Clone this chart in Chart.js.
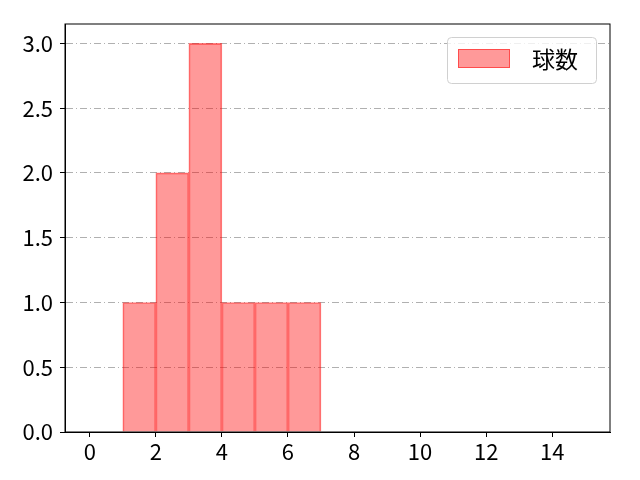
<!DOCTYPE html>
<html>
<head>
<meta charset="utf-8">
<script src="https://cdn.jsdelivr.net/npm/chart.js@4"></script>
<style>
  html, body { margin: 0; padding: 0; background: #fff; }
  #wrap { width: 640px; height: 480px; }
</style>
</head>
<body>
<div id="wrap"><canvas id="c" width="640" height="480"></canvas></div>
<script>
// histogram bins (left edges) and counts
const binEdges = [0, 1, 2, 3, 4, 5, 6, 7, 8, 9, 10, 11, 12, 13, 14];
const counts = [0, 1, 2, 3, 1, 1, 1, 0, 0, 0, 0, 0, 0, 0, 0];
const xTicks = [0, 2, 4, 6, 8, 10, 12, 14];
const yTicks = [0, 0.5, 1.0, 1.5, 2.0, 2.5, 3.0];
const seriesLabel = '球数';

const FONT = "'Noto Sans CJK JP', 'DejaVu Sans', sans-serif";
const fill = 'rgba(255, 0, 0, 0.4)';
const edge = 'rgba(255, 0, 0, 0.5)';

// frame around plot + legend box
const framePlugin = {
  id: 'frame',
  afterDraw(chart) {
    const { ctx, chartArea: a } = chart;
    ctx.save();
    ctx.strokeStyle = '#000';
    ctx.lineWidth = 1;
    ctx.strokeRect(a.left, a.top, a.right - a.left, a.bottom - a.top);

    // legend
    const lx = 447.5, ly = 37.5, lw = 149, lh = 46;
    ctx.fillStyle = 'rgba(255,255,255,0.8)';
    ctx.strokeStyle = '#d0d0d0';
    ctx.beginPath();
    ctx.roundRect(lx, ly, lw, lh, 4);
    ctx.fill();
    ctx.stroke();
    ctx.fillStyle = fill;
    ctx.fillRect(458, 49, 52, 19);
    ctx.strokeStyle = edge;
    ctx.strokeRect(458.5, 49.5, 51, 18);
    ctx.fillStyle = '#000';
    ctx.font = '23px ' + FONT;
    ctx.textBaseline = 'middle';
    ctx.fillText(seriesLabel, 532, 59);
    ctx.restore();
  }
};

new Chart(document.getElementById('c'), {
  type: 'bar',
  data: {
    datasets: [{
      label: seriesLabel,
      data: binEdges.map((b, i) => ({ x: b + 0.5, y: counts[i] })),
      backgroundColor: fill,
      borderColor: edge,
      borderWidth: 1,
      barPercentage: 1,
      categoryPercentage: 1
    }]
  },
  options: {
    responsive: false,
    animation: false,
    layout: { padding: { top: 24, right: 30, left: 0, bottom: 0 } },
    plugins: { legend: { display: false }, tooltip: { enabled: false } },
    scales: {
      x: {
        type: 'linear',
        offset: false,
        min: -0.75,
        max: 15.75,
        afterBuildTicks: s => { s.ticks = xTicks.map(v => ({ value: v })); },
        afterFit: s => { s.height = 48; },
        grid: { offset: false, drawOnChartArea: false, tickLength: 5, tickColor: '#000' },
        border: { display: true, color: '#000' },
        ticks: { color: '#000', font: { family: FONT, size: 22, lineHeight: 1 }, padding: 4, maxRotation: 0 }
      },
      y: {
        z: 1,
        min: 0,
        max: 3.15,
        afterBuildTicks: s => { s.ticks = yTicks.map(v => ({ value: v })); },
        afterFit: s => { s.width = 65; },
        grid: { color: '#b0b0b0', tickLength: 5, tickColor: '#000', tickBorderDash: [] },
        border: { display: true, color: '#000', dash: [7, 3, 1, 3] },
        ticks: { color: '#000', font: { family: FONT, size: 22 }, padding: 7,
                 callback: v => v.toFixed(1) }
      }
    }
  },
  plugins: [framePlugin]
});
</script>
</body>
</html>
